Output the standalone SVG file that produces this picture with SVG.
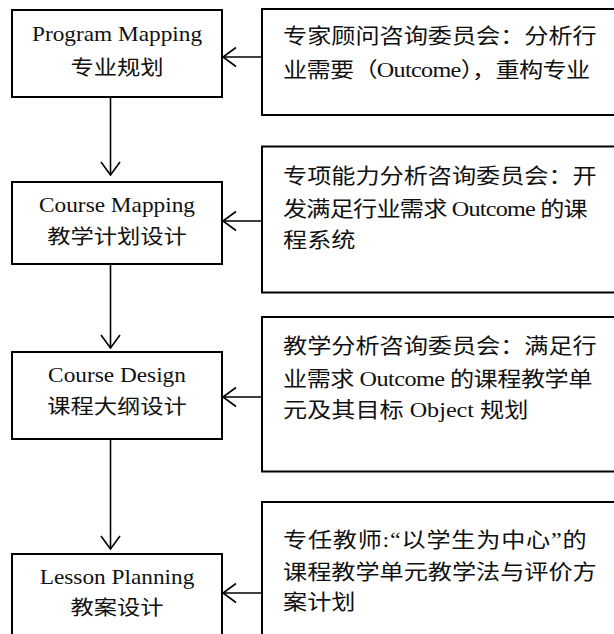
<svg xmlns="http://www.w3.org/2000/svg" width="614" height="634" viewBox="0 0 614 634">
  <style>
    .box { fill: #fff; stroke: #000; stroke-width: 2; }
    .lt { font-family: "Liberation Serif", serif; font-size: 20px; font-weight: 400; fill: #111; text-anchor: middle; }
    .rt { font-family: "Liberation Serif", serif; font-size: 21px; font-weight: 400; fill: #111; }
    .c { font-family: "Noto Sans CJK SC", sans-serif; }
    .conn { stroke: #000; stroke-width: 1.6; fill: none; marker-end: url(#arr); }
  </style>
  <defs>
    <marker id="arr" markerUnits="userSpaceOnUse" viewBox="0 0 15 22" refX="14" refY="11" markerWidth="15" markerHeight="22" orient="auto">
      <path d="M1,1.5 L14,11 L1,20.5" fill="none" stroke="#000" stroke-width="1.6"/>
    </marker>
  </defs>
  <rect width="614" height="634" fill="#fff"/>

  <g id="program-mapping">
    <rect class="box" x="12" y="10" width="210" height="87"/>
    <text class="lt" transform="translate(117,41) scale(1.165,1)">Program Mapping</text>
    <text class="lt c" transform="translate(117,75) scale(1.165,1)">专业规划</text>
  </g>
  <g id="course-mapping">
    <rect class="box" x="12" y="182" width="210" height="82"/>
    <text class="lt" transform="translate(117,212) scale(1.165,1)">Course Mapping</text>
    <text class="lt c" transform="translate(117,244) scale(1.165,1)">教学计划设计</text>
  </g>
  <g id="course-design">
    <rect class="box" x="12" y="352" width="210" height="87"/>
    <text class="lt" transform="translate(117,382) scale(1.165,1)">Course Design</text>
    <text class="lt c" transform="translate(117,414) scale(1.165,1)">课程大纲设计</text>
  </g>
  <g id="lesson-planning">
    <rect class="box" x="12" y="554" width="210" height="100"/>
    <text class="lt" transform="translate(117,584) scale(1.165,1)">Lesson Planning</text>
    <text class="lt c" transform="translate(117,615) scale(1.165,1)">教案设计</text>
  </g>

  <g id="expert-committee">
    <rect class="box" x="262" y="9" width="370" height="106"/>
    <text class="rt c" transform="translate(283,43) scale(1.15,1)">专家顾问咨询委员会：分析行</text>
    <text class="rt" transform="translate(283,77) scale(1.15,1)" textLength="267" lengthAdjust="spacing"><tspan class="c">业需要（</tspan>Outcome<tspan class="c">），重构专业</tspan></text>
  </g>
  <g id="competency-committee">
    <rect class="box" x="262" y="146.5" width="370" height="146"/>
    <text class="rt c" transform="translate(283,183) scale(1.15,1)">专项能力分析咨询委员会：开</text>
    <text class="rt" transform="translate(283,216) scale(1.15,1)" textLength="265" lengthAdjust="spacing"><tspan class="c">发满足行业需求</tspan> Outcome <tspan class="c">的课</tspan></text>
    <text class="rt c" transform="translate(283,247) scale(1.15,1)">程系统</text>
  </g>
  <g id="teaching-committee">
    <rect class="box" x="262" y="317" width="370" height="154.5"/>
    <text class="rt c" transform="translate(283,353) scale(1.15,1)">教学分析咨询委员会：满足行</text>
    <text class="rt" transform="translate(283,386) scale(1.15,1)" textLength="269" lengthAdjust="spacing"><tspan class="c">业需求</tspan> Outcome <tspan class="c">的课程教学单</tspan></text>
    <text class="rt" transform="translate(283,417) scale(1.15,1)"><tspan class="c">元及其目标</tspan> Object <tspan class="c">规划</tspan></text>
  </g>
  <g id="teacher">
    <rect class="box" x="262" y="502" width="370" height="150"/>
    <text class="rt" transform="translate(283,547) scale(1.15,1)" textLength="264" lengthAdjust="spacing"><tspan class="c">专任教师</tspan>:“<tspan class="c">以学生为中心</tspan>”<tspan class="c">的</tspan></text>
    <text class="rt c" transform="translate(283,579) scale(1.15,1)">课程教学单元教学法与评价方</text>
    <text class="rt c" transform="translate(283,609) scale(1.15,1)">案计划</text>
  </g>

  <g id="connectors">
    <line class="conn" x1="110.5" y1="97" x2="110.5" y2="175"/>
    <line class="conn" x1="110.5" y1="264" x2="110.5" y2="348"/>
    <line class="conn" x1="110.5" y1="439" x2="110.5" y2="549"/>
    <line class="conn" x1="262" y1="57" x2="223" y2="57"/>
    <line class="conn" x1="262" y1="221" x2="223" y2="221"/>
    <line class="conn" x1="262" y1="397" x2="223" y2="397"/>
    <line class="conn" x1="262" y1="593" x2="223" y2="593"/>
  </g>
</svg>
